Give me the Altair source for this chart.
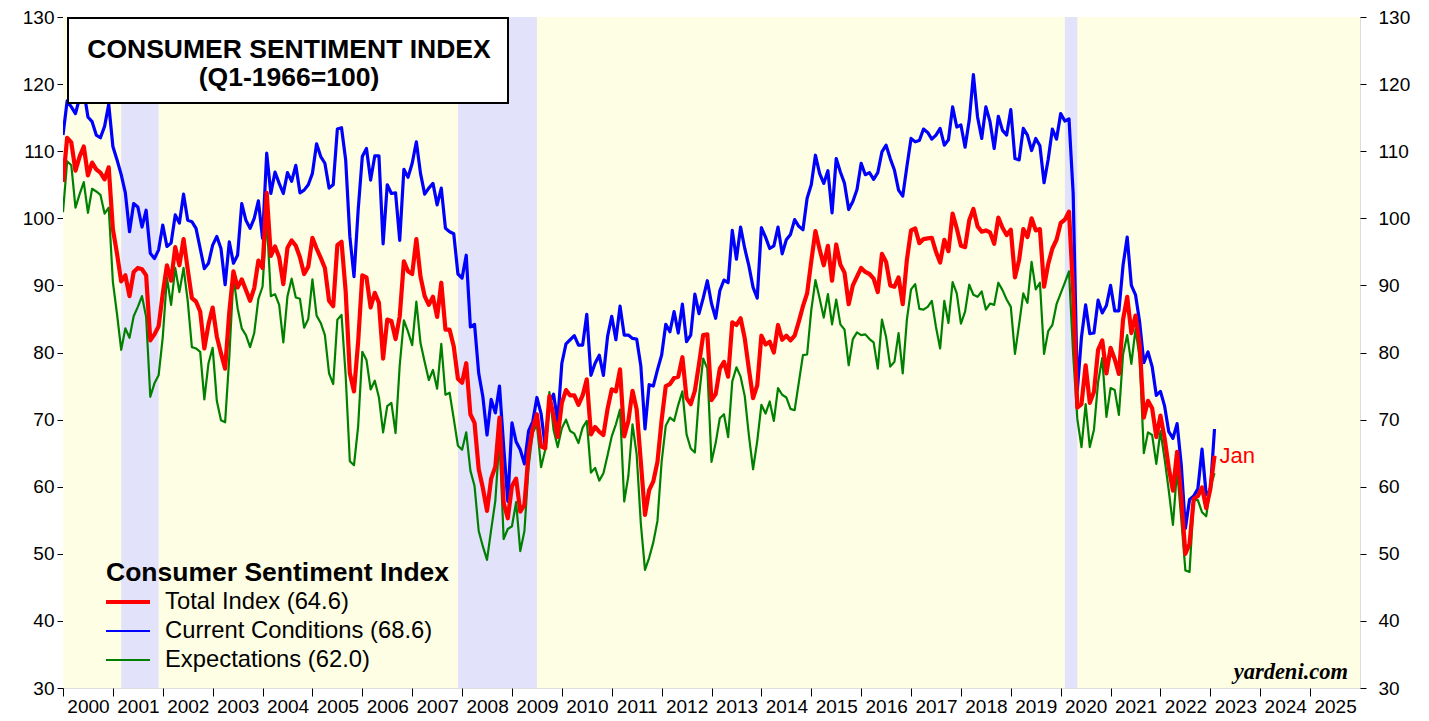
import altair as alt
import pandas as pd

# Monthly values, Dec 1999 .. Jan 2023 (plotted at month end)
total_index = [105.4,
 112.0,111.3,107.1,109.2,110.7,106.4,108.3,107.3,106.8,105.8,107.6,98.4,
 94.7,90.6,91.5,88.4,92.0,92.6,92.4,91.5,81.8,82.7,83.9,88.8,
 93.0,90.7,95.7,93.0,96.9,92.4,88.1,87.6,86.1,80.6,84.2,86.7,
 82.4,79.9,77.6,86.0,92.1,89.7,90.9,89.3,87.7,89.6,93.7,92.6,
 103.8,94.4,95.8,94.2,90.2,95.6,96.7,95.9,94.2,91.7,92.8,97.1,
 95.5,94.1,92.6,87.7,86.9,96.0,96.5,89.1,76.9,74.2,81.6,91.5,
 91.2,86.7,88.9,87.4,79.1,84.9,84.7,82.0,85.4,93.6,92.1,91.7,
 96.9,91.3,88.4,87.1,88.3,85.3,90.4,83.4,83.4,80.9,76.1,75.5,
 78.4,70.8,69.5,62.6,59.8,56.4,61.2,63.0,70.3,57.6,55.3,60.1,
 61.2,56.3,57.3,65.1,68.7,70.8,66.0,65.7,73.5,70.6,67.4,72.5,
 74.4,73.6,73.6,72.2,73.6,76.0,67.8,68.9,68.2,67.7,71.6,74.5,
 74.2,77.5,67.5,69.8,74.3,71.5,63.7,55.8,59.5,60.8,63.7,69.9,
 75.0,75.3,76.2,76.4,79.3,73.2,72.3,74.3,78.3,82.6,82.7,72.9,
 73.8,77.6,78.6,76.4,84.5,84.1,85.1,82.1,77.5,73.2,75.1,82.5,
 81.2,81.6,80.0,84.1,81.9,82.5,81.8,82.5,84.6,86.9,88.8,93.6,
 98.1,95.4,93.0,95.9,90.7,96.1,93.1,91.9,87.2,90.0,91.3,92.6,
 92.0,91.7,91.0,89.0,94.7,93.5,90.0,89.8,91.2,87.2,93.8,98.2,
 98.5,96.3,96.9,97.0,97.1,95.0,93.4,96.8,95.1,100.7,98.5,95.9,
 95.7,99.7,101.4,98.8,98.0,98.2,97.9,96.2,100.1,98.6,97.5,98.3,
 91.2,93.8,98.4,97.2,100.0,98.2,98.4,89.8,93.2,95.5,96.8,99.3,
 99.8,101.0,89.1,71.8,72.3,78.1,72.5,74.1,80.4,81.8,76.9,80.7,
 79.0,76.8,84.9,88.3,82.9,85.5,81.2,70.3,72.8,71.7,67.4,70.6,
 67.2,62.8,59.4,65.2,58.4,50.0,51.5,58.2,58.6,59.9,56.8,59.7,
 64.6]

current_conditions = [112.4,
 117.5,116.6,115.6,118.0,119.0,115.1,114.4,112.4,112.0,113.7,117.0,110.7,
 108.7,106.5,103.8,98.0,102.2,101.7,98.7,101.2,94.8,94.0,95.3,99.0,
 95.8,96.3,100.5,99.3,103.6,99.7,99.5,98.5,95.5,92.5,93.3,96.0,
 97.3,95.5,90.1,96.5,93.3,94.5,102.2,99.7,98.5,100.0,102.6,97.0,
 109.7,103.7,106.9,105.2,103.7,106.8,105.5,107.9,103.8,104.2,105.0,106.7,
 111.1,109.2,108.2,104.5,105.0,113.3,113.5,108.7,97.3,91.3,101.2,109.2,
 110.4,105.7,109.3,109.3,96.2,105.0,103.7,103.8,96.7,107.3,106.1,108.2,
 111.4,106.7,103.6,104.5,105.2,102.0,104.5,98.5,98.0,97.7,91.7,91.1,
 94.5,83.8,84.2,76.9,73.4,67.7,73.0,71.0,75.0,66.0,57.8,69.5,
 66.7,65.5,63.4,68.3,69.7,73.3,70.9,66.0,72.5,73.8,69.7,78.4,
 81.3,81.9,82.5,81.1,81.1,85.7,76.6,78.4,79.6,76.6,82.4,85.4,
 81.9,86.9,82.6,82.6,82.1,82.0,78.0,68.6,75.2,75.0,77.4,79.6,
 84.2,83.1,86.1,82.9,87.2,81.6,82.6,88.7,85.8,88.1,90.7,87.3,
 85.1,89.2,90.8,90.4,98.2,93.9,98.7,95.5,92.9,89.7,88.1,98.6,
 97.2,95.5,95.9,98.7,94.7,96.8,97.6,99.8,98.8,98.3,103.0,105.0,
 109.4,106.7,105.2,107.1,100.8,108.9,106.9,105.2,101.3,102.5,104.3,108.2,
 106.5,106.8,105.8,106.8,109.9,110.9,108.9,107.2,104.2,103.3,107.7,111.9,
 111.4,111.6,113.3,112.8,111.8,112.4,113.4,110.9,111.7,116.6,113.6,113.9,
 110.6,114.6,121.4,115.1,111.9,116.6,114.4,110.4,115.2,113.1,112.4,116.2,
 108.9,108.7,113.4,112.4,110.1,111.9,110.8,105.3,108.8,113.3,111.8,115.6,
 114.5,114.8,103.7,74.3,82.3,87.1,82.8,82.9,87.8,85.9,87.0,90.0,
 86.2,86.2,93.0,97.2,90.0,88.6,84.5,78.5,80.1,77.9,73.6,74.2,
 72.0,68.2,67.2,69.4,63.3,53.8,58.1,58.6,59.7,65.6,58.8,59.4,
 68.6]

expectations = [100.9,
 108.5,107.9,101.6,103.6,105.4,100.8,104.4,104.0,103.5,100.7,101.6,90.5,
 85.7,80.4,83.6,82.2,85.4,86.8,88.4,85.3,73.4,75.4,76.6,82.3,
 91.2,87.1,92.6,89.0,92.6,87.7,80.8,80.6,80.1,73.0,78.4,80.7,
 72.8,69.9,69.6,79.3,91.3,86.6,83.6,82.6,80.8,82.9,88.0,89.8,
 100.0,88.4,88.7,87.1,81.5,88.4,91.0,88.2,88.0,83.7,85.0,90.9,
 85.5,84.4,82.6,76.9,75.3,84.9,85.6,76.5,63.8,63.2,69.0,80.1,
 78.9,74.5,75.8,73.3,68.1,72.0,72.5,68.0,78.1,84.8,83.1,81.1,
 87.6,81.4,78.6,75.9,77.4,74.6,81.3,73.7,74.0,70.1,66.1,65.5,
 68.1,62.4,60.1,53.4,51.1,49.1,53.6,57.9,67.3,52.2,53.7,54.1,
 57.7,50.4,53.4,63.0,68.1,69.2,62.9,65.5,74.1,68.5,65.9,68.7,
 70.0,68.3,67.9,66.5,68.8,69.8,62.1,62.8,60.9,62.0,64.7,67.5,
 69.3,71.5,57.8,61.6,69.3,64.8,54.5,47.6,49.4,51.7,54.9,63.7,
 69.1,70.3,69.8,72.2,74.2,67.8,65.7,65.1,73.5,79.1,77.6,63.7,
 66.5,70.2,70.8,67.4,75.7,77.8,76.4,73.5,67.6,62.6,66.8,72.2,
 70.9,72.7,69.8,74.7,73.7,73.3,71.6,71.4,75.5,79.6,79.7,86.3,
 90.8,88.1,85.2,88.7,84.2,87.9,84.2,83.4,78.1,82.0,83.0,82.6,
 82.7,82.0,81.5,77.6,84.9,82.3,77.9,78.6,82.9,76.9,84.9,89.4,
 90.2,86.5,86.4,86.8,87.7,83.8,80.6,87.7,84.4,90.5,88.8,84.3,
 86.1,90.1,88.6,88.3,89.1,86.4,87.3,87.1,90.4,89.3,87.9,86.8,
 79.8,84.2,88.8,87.4,93.5,89.4,90.4,79.8,83.2,84.1,87.2,88.8,
 90.4,92.1,79.7,70.1,65.9,72.3,65.9,68.5,75.6,79.2,70.4,74.7,
 74.4,70.7,79.7,82.6,78.3,83.5,79.1,65.0,68.1,67.7,63.4,68.3,
 64.1,59.4,54.3,62.5,55.2,47.5,47.3,58.0,58.0,56.2,55.6,59.9,
 62.0]

series_names = ["Total Index (64.6)", "Current Conditions (68.6)", "Expectations (62.0)"]
series_colors = ["#ff0000", "#0000ff", "#008000"]
series_widths = [4.2, 2.2, 2.2]

recession_start = [2001 + 2/12, 2007 + 11/12, 2020 + 1/12]
recession_end = [2001 + 11/12, 2009 + 6/12, 2020 + 4/12]

year_ticks = list(range(2000, 2026))
y_ticks = list(range(30, 131, 10))

W, H = 1297, 671
FONT = "Liberation Sans"

rows = []
for i in range(len(total_index)):
    t = 2000 + i / 12
    for name, vals in zip(series_names, [total_index, current_conditions, expectations]):
        rows.append({"t": t, "v": vals[i], "s": name})
df = pd.DataFrame(rows)
rec_df = pd.DataFrame({"s0": recession_start, "e0": recession_end})
last_df = pd.DataFrame({"t": [2000 + (len(total_index) - 1) / 12], "v": [total_index[-1]], "lab": ["Jan"]})
one = pd.DataFrame({"a": [0]})

xscale = alt.Scale(domain=[2000, 2026], nice=False, zero=False)
yscale = alt.Scale(domain=[30, 130], nice=False, zero=False)

x_axis = alt.Axis(values=year_ticks, format="d", labelOffset=25, tickSize=8, labelPadding=1,
                  labelFontSize=19, labelFlush=False, labelOverlap=False, grid=False,
                  domain=False, title=None, labelColor="black", tickColor="black", labelFont=FONT)
y_axis_left = alt.Axis(values=y_ticks, tickSize=6, labelPadding=3, labelFontSize=19, grid=False,
                       domain=False, title=None, labelColor="black", tickColor="black", labelFont=FONT)
y_axis_right = alt.Axis(values=y_ticks, tickSize=6, labelPadding=12, labelFontSize=19, grid=False,
                        domain=False, title=None, orient="right", labelColor="black",
                        tickColor="black", labelFont=FONT)

color_scale = alt.Scale(domain=series_names, range=series_colors)
width_scale = alt.Scale(domain=series_names, range=series_widths)

background = alt.Chart(one).mark_rect(fill="#fefee4").encode(
    x=alt.value(0), x2=alt.value(W), y=alt.value(0), y2=alt.value(H))

bands = alt.Chart(rec_df).mark_rect(color="#e2e2fa").encode(
    x=alt.X("s0:Q", scale=xscale, axis=x_axis),
    x2="e0:Q",
    y=alt.value(0), y2=alt.value(H),
)

def series_layer(name, axis):
    return alt.Chart(df).transform_filter(alt.datum.s == name).mark_line(strokeJoin="round", clip=True).encode(
        x=alt.X("t:Q", scale=xscale, axis=x_axis),
        y=alt.Y("v:Q", scale=yscale, axis=axis),
        color=alt.Color("s:N", scale=color_scale, legend=None),
        strokeWidth=alt.StrokeWidth("s:N", scale=width_scale, legend=None),
    )

green = series_layer(series_names[2], y_axis_left)
blue = series_layer(series_names[1], None)
red = series_layer(series_names[0], None)
right_axis = series_layer(series_names[0], y_axis_right).mark_line(opacity=0)

jan = alt.Chart(last_df).mark_text(align="left", baseline="middle", dx=5, fontSize=22,
                                   color="#ff0000", font=FONT).encode(
    x=alt.X("t:Q", scale=xscale, axis=x_axis),
    y=alt.Y("v:Q", scale=yscale, axis=None),
    text="lab:N",
)

title_box = alt.Chart(one).mark_rect(fill="white", stroke="black", strokeWidth=2).encode(
    x=alt.value(5), x2=alt.value(445), y=alt.value(1), y2=alt.value(86))
title1 = alt.Chart(one).mark_text(text="CONSUMER SENTIMENT INDEX", fontSize=26.5, fontWeight="bold",
                                  font=FONT, align="center", baseline="middle", color="black").encode(
    x=alt.value(226), y=alt.value(33))
title2 = alt.Chart(one).mark_text(text="(Q1-1966=100)", fontSize=26.5, fontWeight="bold",
                                  font=FONT, align="center", baseline="middle", color="black").encode(
    x=alt.value(226), y=alt.value(61))

legend_title = alt.Chart(one).mark_text(text="Consumer Sentiment Index", fontSize=26.5, fontWeight="bold",
                                        font=FONT, align="left", baseline="middle", color="black").encode(
    x=alt.value(43), y=alt.value(556))
legend_layers = [legend_title]
for k, (name, col, wd) in enumerate(zip(series_names, series_colors, series_widths)):
    yy = 585 + 29 * k
    legend_layers.append(alt.Chart(one).mark_rule(color=col, strokeWidth=wd).encode(
        x=alt.value(43), x2=alt.value(87), y=alt.value(yy)))
    legend_layers.append(alt.Chart(one).mark_text(text=name, fontSize=23.8, font=FONT, align="left",
                                                  baseline="middle", color="black").encode(
        x=alt.value(102), y=alt.value(yy)))

source = alt.Chart(one).mark_text(text="yardeni.com", fontSize=22.5, fontWeight="bold", fontStyle="italic",
                                  font="Liberation Serif", align="right", baseline="middle",
                                  color="black").encode(x=alt.value(1285), y=alt.value(655))

chart = alt.layer(
    background, bands, green, blue, red, right_axis, jan, title_box, title1, title2, *legend_layers, source
).resolve_axis(y="independent").properties(
    width=W, height=H,
    autosize=alt.AutoSizeParams(type="none"),
    padding={"left": 55, "top": 9, "right": 61, "bottom": 25},
).configure_view(
    stroke="black", strokeWidth=1.5
).configure(font=FONT)

chart.save("out.html", embed_options={"renderer": "svg", "actions": False})
